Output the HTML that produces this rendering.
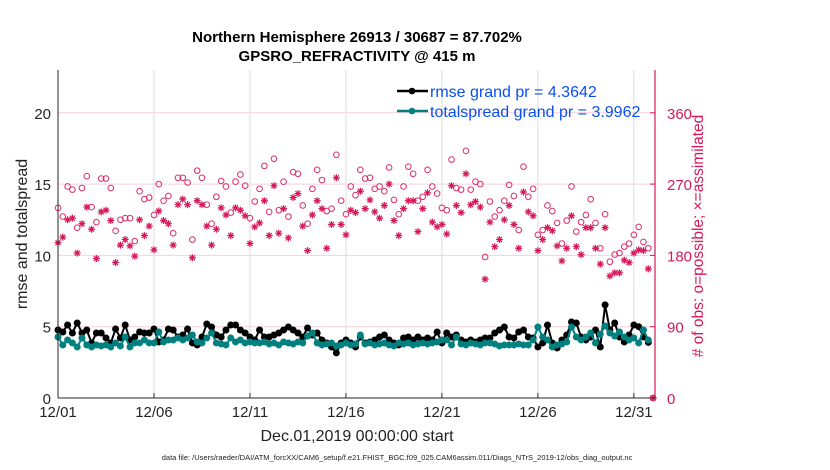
<!DOCTYPE html>
<html><head><meta charset="utf-8">
<style>
html,body{margin:0;padding:0;background:#fff;}
svg{display:block;font-family:"Liberation Sans",Arial,sans-serif;}
</style></head>
<body>
<svg id="chart" width="830" height="470" viewBox="0 0 830 470">
<g id="grid"></g>
<g id="marks"></g>
<g id="axes"></g>
<text x="357" y="42" text-anchor="middle" font-size="15" font-weight="bold">Northern Hemisphere 26913 / 30687 = 87.702%</text>
<text x="357" y="61" text-anchor="middle" font-size="15" font-weight="bold">GPSRO_REFRACTIVITY @ 415 m</text>
<text x="357" y="441" text-anchor="middle" font-size="16" fill="#222">Dec.01,2019 00:00:00 start</text>
<text x="397" y="460" text-anchor="middle" font-size="7.5" fill="#222">data file: /Users/raeder/DAI/ATM_forcXX/CAM6_setup/f.e21.FHIST_BGC.f09_025.CAM6assim.011/Diags_NTrS_2019-12/obs_diag_output.nc</text>
<text transform="translate(27,234) rotate(-90)" text-anchor="middle" font-size="16" fill="#222">rmse and totalspread</text>
<text transform="translate(703,236) rotate(-90)" text-anchor="middle" font-size="15.5" fill="#d6185a"># of obs: o=possible; ×=assimilated</text>
<g>
<g>
<line x1="397" y1="91" x2="428" y2="91" stroke="#000" stroke-width="2.5"/>
<circle cx="412" cy="91" r="3.3" fill="#000"/>
<text x="430" y="97" font-size="16" fill="#0a4ff0">rmse grand pr = 4.3642</text>
</g>
<g>
<line x1="397" y1="111" x2="428" y2="111" stroke="#00807f" stroke-width="2.5"/>
<circle cx="412" cy="111" r="3.3" fill="#00807f"/>
<text x="430" y="117" font-size="16" fill="#0a4ff0">totalspread grand pr = 3.9962</text>
</g>
</g>
</svg>
<script>
const xTickLabels = ["12/01","12/06","12/11","12/16","12/21","12/26","12/31"];
const xTickDays = [0,5,10,15,20,25,30];
const yLeftTicks = [0,5,10,15,20];
const yRightTicks = [0,90,180,270,360];
const possible = [240,229,267,263,215,265,280,241,222,277,277,265,211,225,227,227,198,261,251,253,231,270,249,255,208,278,278,272,200,287,278,244,220,254,274,267,234,273,282,268,227,248,
264,293,235,302,237,273,229,285,283,243,220,264,288,275,236,239,307,249,232,267,256,288,277,278,264,267,261,291,250,232,267,292,283,249,254,288,267,258,240,
237,301,265,263,312,263,273,270,178,248,229,237,249,269,255,212,292,254,264,206,212,243,236,221,195,224,267,210,222,231,251,221,189,232,172,181,183,191,195,206,216,197,189,0];
const assimilated = [196,203,225,227,183,220,241,213,176,235,237,224,171,193,200,192,179,225,205,217,187,236,224,220,193,244,251,244,177,249,244,217,193,213,240,231,205,240,237,230,195,216,
221,249,205,268,208,239,202,253,258,217,186,231,249,239,189,219,278,219,206,237,234,261,239,250,235,227,243,270,224,205,239,249,249,210,239,259,222,216,219,
207,268,243,234,283,244,248,241,150,222,191,200,225,243,219,189,260,235,230,186,200,215,211,192,173,189,230,191,181,215,215,189,169,215,154,158,158,174,171,183,187,186,163,0];
const rmse = [4.77,4.63,5.12,4.56,5.26,4.56,4.77,3.86,4.56,4.56,4.21,3.86,4.84,4.21,5.12,4.07,4.28,4.63,4.56,4.56,4.84,3.93,4.07,4.84,4.77,4.28,4.42,4.84,3.86,3.72,4.28,5.19,4.98,4.42,4.28,4.77,5.12,5.12,4.77,4.56,4.28,4.07,
4.77,4.28,4.28,4.42,4.56,4.77,4.98,4.77,4.56,4.28,4.91,4.42,4.56,4.07,3.86,3.58,3.16,3.86,4.07,3.86,3.58,4.28,3.86,3.93,4.07,4.28,4.42,4.07,3.86,3.72,4.21,4.28,4.07,4.28,4.07,4.21,4.07,4.63,3.86,
4.56,4.28,4.42,4.07,3.93,4.07,3.93,4.07,4.21,4.21,4.56,4.77,4.98,4.28,4.21,4.63,4.77,4.28,4.21,3.58,3.86,5.12,3.86,3.51,4.07,4.42,5.33,5.26,4.28,4.07,4.28,4.77,3.58,6.53,4.77,5.26,4.28,3.93,4.42,5.12,5.0,4.28,3.9];
const spread = [4.28,3.72,4.07,3.86,3.58,4.21,3.72,3.58,3.72,3.65,3.72,3.58,3.86,3.65,4.28,3.58,3.86,3.86,4.07,3.86,3.86,4.63,3.93,4.07,4.07,4.21,4.07,4.21,4.42,3.93,3.86,4.21,4.56,3.86,3.79,3.72,4.21,3.93,4.07,3.86,3.93,3.86,
3.86,3.93,3.79,3.86,3.72,3.93,3.86,3.79,3.93,3.86,4.35,4.56,3.86,3.72,3.79,3.86,3.65,3.72,3.86,3.72,3.79,4.42,3.79,3.86,3.72,3.79,3.86,3.72,3.65,3.86,3.79,3.86,3.72,3.79,3.86,3.79,3.86,3.93,4.07,
4.07,3.72,4.28,3.79,3.72,3.86,3.79,3.72,3.86,3.86,3.79,3.65,3.72,3.72,3.72,3.79,3.72,3.72,4.07,4.98,4.28,4.07,3.58,3.72,3.79,3.93,4.98,4.28,4.07,4.28,4.56,3.86,4.49,5.05,4.56,4.35,4.63,4.28,4.07,4.21,3.86,4.77,4.07];

const NS="http://www.w3.org/2000/svg";
const L=58,R=655,T=70,B=398;
const xDays=31.1, yMaxL=23, yMaxR=414;
function xs(d){return L+(d/xDays)*(R-L);}
function yl(v){return B-(v/yMaxL)*(B-T);}
function yr(v){return B-(v/yMaxR)*(B-T);}
function mk(tag,attrs,parent){const e=document.createElementNS(NS,tag);for(const k in attrs)e.setAttribute(k,attrs[k]);parent.appendChild(e);return e;}
const grid=document.getElementById('grid'),marks=document.getElementById('marks'),axes=document.getElementById('axes');

xTickDays.forEach((d,i)=>{
  if(i>0){const g=mk('line',{x1:xs(d),x2:xs(d),y1:T,y2:B,stroke:'#dcdcdc','stroke-width':1},grid);
  
  }
  const tk=mk('line',{x1:xs(d),x2:xs(d),y1:B,y2:B-5,stroke:'#262626'},axes);
  
  
  const t=mk('text',{x:xs(d),y:B+19,'text-anchor':'middle','font-size':15,fill:'#262626'},axes);
  t.textContent=xTickLabels[i];
  
  
});
yLeftTicks.forEach(v=>{
  if(v>0){const g=mk('line',{x1:L,x2:R,y1:yl(v),y2:yl(v),stroke:'#f6d0dc','stroke-width':1},grid);
  
  }
  const t=mk('text',{x:L-7,y:yl(v)+6,'text-anchor':'end','font-size':15,fill:'#262626'},axes);
  t.textContent=v;
  
  
});
yRightTicks.forEach(v=>{
  const tk=mk('line',{x1:R,x2:R-5,y1:yr(v),y2:yr(v),stroke:'#d6185a'},axes);
  
  
  const t=mk('text',{x:R+12,y:yr(v)+6,'font-size':15,fill:'#d6185a'},axes);
  t.textContent=v;
  
  
});
const ax1=mk('line',{x1:L,x2:R,y1:B,y2:B,stroke:'#262626','stroke-width':1},axes);


const ax2=mk('line',{x1:L,x2:L,y1:T,y2:B,stroke:'#262626','stroke-width':1},axes);


const ax3=mk('line',{x1:R,x2:R,y1:T,y2:B,stroke:'#d6185a','stroke-width':1.2},axes);



possible.forEach((v,i)=>{
  const c=mk('circle',{cx:xs(i*0.25),cy:yr(v),r:2.8,fill:'none',stroke:'#dc2d66','stroke-width':1},marks);
  
  
});
assimilated.forEach((v,i)=>{
  const cx=xs(i*0.25), cy=yr(v), s=3.5, d=2.5;
  const p=`M${cx-s},${cy}H${cx+s}M${cx},${cy-s}V${cy+s}M${cx-d},${cy-d}L${cx+d},${cy+d}M${cx-d},${cy+d}L${cx+d},${cy-d}`;
  const st=mk('path',{d:p,stroke:'#d6185a','stroke-width':1.2,fill:'none'},marks);
  
  
});
function series(arr,color,name){
  const pts=arr.map((v,i)=>xs(i*0.25)+','+yl(v)).join(' ');
  const pl=mk('polyline',{points:pts,fill:'none',stroke:color,'stroke-width':2},marks);
  
  
  arr.forEach((v,i)=>{
    const c=mk('circle',{cx:xs(i*0.25),cy:yl(v),r:3.5,fill:color},marks);
    
    
  });
}
series(rmse,'#000000','rmse');
series(spread,'#00807f','totalspread');
</script>
</body></html>
